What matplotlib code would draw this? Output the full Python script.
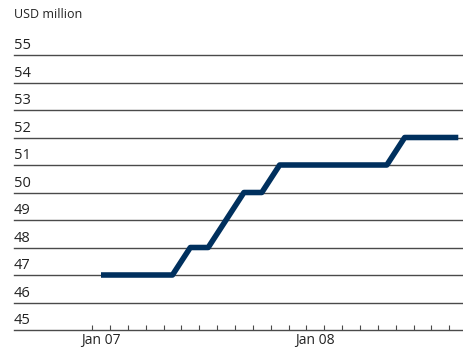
import matplotlib
matplotlib.use("Agg")
import matplotlib.pyplot as plt
import matplotlib.transforms as mtransforms

# monthly values, Jan 07 .. Sep 08
months = ["Jan 07", "Feb 07", "Mar 07", "Apr 07", "May 07", "Jun 07", "Jul 07",
          "Aug 07", "Sep 07", "Oct 07", "Nov 07", "Dec 07", "Jan 08", "Feb 08",
          "Mar 08", "Apr 08", "May 08", "Jun 08", "Jul 08", "Aug 08", "Sep 08"]
values = [47, 47, 47, 47, 47, 48, 48, 49, 50, 50, 51, 51, 51, 51,
          51, 51, 51, 52, 52, 52, 52]
y_ticks = [45, 46, 47, 48, 49, 50, 51, 52, 53, 54, 55]
x_labels = ["Jan 07", "Jan 08"]

plt.rcParams["font.family"] = ["Open Sans", "DejaVu Sans"]
text_col = "#222222"
grid_col = "#4a4a4a"

fig = plt.figure(figsize=(4.64, 3.48), dpi=100)
ax = fig.add_axes([14 / 464, 18 / 348, 1 - 14 / 464, (330 - 55) / 348])

x = [i + 0.5 for i in range(len(values))]
ax.plot(x, values, color="#00305e", lw=4, solid_capstyle="butt")

ax.set_ylim(45, 55)
ax.set_xlim(-4.37, 20.82)

for s in ax.spines.values():
    s.set_visible(False)

# horizontal grid lines, including the baseline
for v in y_ticks:
    ax.axhline(v, color=grid_col, lw=1.0, clip_on=False, zorder=0)

# y labels sit above their grid line, left aligned
off = mtransforms.ScaledTranslation(0, 4 / 72, fig.dpi_scale_trans)
tr = mtransforms.blended_transform_factory(ax.transAxes, ax.transData) + off
for v in y_ticks:
    ax.text(0, v, str(v), transform=tr, ha="left", va="baseline",
            fontsize=10.5, color=text_col)
ax.set_yticks([])

# monthly ticks pointing up, year labels centred in the month
ax.set_xticks(range(len(months)))
ax.set_xticklabels([])
ax.tick_params(axis="x", which="major", direction="in", length=3.8,
               width=0.8, color=grid_col)
ax.set_xticks([0.5, 12.5], minor=True)
ax.set_xticklabels(x_labels, minor=True, fontsize=10, color=text_col)
ax.tick_params(axis="x", which="minor", length=0, pad=2)

fig.text(14 / 464, 1 - 15 / 348, "USD million", fontsize=9, color=text_col,
         ha="left", va="center")

fig.savefig("out.png", dpi=100)
